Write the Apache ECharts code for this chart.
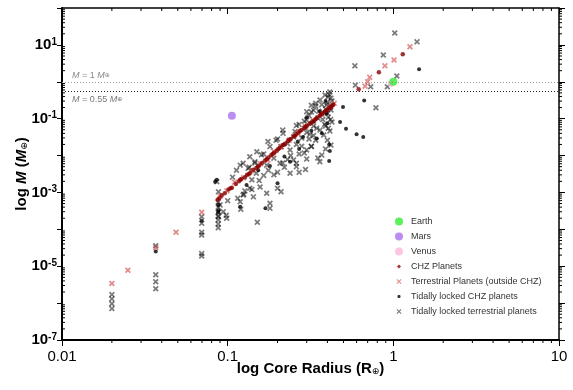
<!DOCTYPE html>
<html>
<head>
<meta charset="utf-8">
<script src="https://cdn.jsdelivr.net/npm/echarts@6/dist/echarts.min.js"></script>
<style>
  html, body { margin: 0; padding: 0; background: #fff; }
  #chart { width: 573px; height: 390px; }
</style>
</head>
<body>
<div id="chart"></div>
<script>
// values, [core radius (R_earth), mass (M_earth)]
const earth = [[1, 1]]
const mars = [[0.106, 0.12]]
const venus = [[0.97, 0.9]]

const chzPlanets = [
  [0.087, 6.3e-4], [0.092, 8.2e-4], [0.096, 9.5e-4], [0.101, 1.2e-3], [0.106, 1.35e-3],
  [0.112, 1.7e-3], [0.117, 2.0e-3], [0.121, 2.3e-3], [0.127, 2.6e-3], [0.131, 3.0e-3],
  [0.137, 3.4e-3], [0.143, 4.1e-3], [0.149, 4.6e-3], [0.155, 5.4e-3], [0.161, 6.3e-3],
  [0.168, 7.4e-3], [0.176, 8.9e-3], [0.183, 1.02e-2], [0.191, 1.2e-2], [0.198, 1.35e-2],
  [0.206, 1.6e-2], [0.214, 1.9e-2], [0.222, 2.1e-2], [0.231, 2.5e-2], [0.240, 2.8e-2],
  [0.250, 3.3e-2], [0.259, 3.7e-2], [0.268, 4.2e-2], [0.279, 4.9e-2], [0.290, 5.6e-2],
  [0.301, 6.4e-2], [0.312, 7.2e-2], [0.324, 8.4e-2], [0.336, 9.4e-2], [0.348, 0.108],
  [0.360, 0.122], [0.372, 0.138], [0.385, 0.155], [0.398, 0.175], [0.410, 0.19],
  [0.422, 0.215], [0.434, 0.24], [0.618, 0.63], [0.818, 1.8], [1.14, 5.6],
  [0.089, 7.0e-4], [0.104, 1.3e-3], [0.119, 2.2e-3], [0.134, 3.1e-3], [0.152, 5.0e-3],
  [0.172, 8.0e-3], [0.187, 1.1e-2], [0.202, 1.5e-2], [0.218, 1.95e-2], [0.235, 2.7e-2],
  [0.254, 3.4e-2], [0.273, 4.6e-2], [0.295, 6.0e-2], [0.318, 7.6e-2], [0.342, 0.1],
  [0.366, 0.13], [0.392, 0.165], [0.416, 0.2], [0.428, 0.23]
]

const terrestrial = [
  [0.02, 3.4e-6], [0.025, 7.8e-6], [0.0368, 3.2e-5], [0.0488, 8.3e-5], [0.0697, 2.9e-4],
  [0.090, 8.0e-4], [0.099, 1.1e-3], [0.110, 1.9e-3], [0.125, 2.5e-3], [0.14, 3.9e-3],
  [0.158, 6.0e-3], [0.175, 7.6e-3], [0.19, 1.3e-2], [0.21, 1.7e-2], [0.235, 2.6e-2],
  [0.265, 4.0e-2], [0.295, 6.2e-2], [0.33, 0.088], [0.37, 0.13], [0.41, 0.2], [0.44, 0.26],
  [0.675, 0.76], [0.70, 1.0], [0.72, 1.32], [0.89, 2.7], [1.01, 3.9], [1.26, 8.9]
]

const lockedChz = [
  [0.0368, 2.5e-5], [0.0697, 1.7e-4], [0.0877, 2.9e-4], [0.0877, 4.6e-4], [0.084, 1.95e-3],
  [0.086, 2.2e-3], [0.088, 3.3e-4], [0.119, 4.1e-4], [0.169, 3.7e-4], [0.153, 4.0e-3],
  [0.20, 1.77e-3], [0.238, 6.8e-3], [0.265, 0.024], [0.285, 0.032], [0.33, 0.082],
  [0.345, 0.029], [0.37, 0.040], [0.395, 0.14], [0.40, 0.075], [0.41, 0.020],
  [0.414, 0.0132], [0.41, 0.0071], [0.477, 0.081], [0.497, 0.206], [0.518, 0.053],
  [0.60, 0.038], [0.658, 0.032], [0.667, 0.313], [1.43, 2.2], [0.30, 0.11], [0.36, 0.16],
  [0.32, 0.047], [0.27, 0.015], [0.22, 0.0095], [0.18, 0.0052], [0.13, 0.0016], [0.39, 0.30]
]

const lockedTerrestrial = [
  [0.02, 1.7e-6], [0.02, 1.3e-6], [0.02, 9.6e-7], [0.02, 7.1e-7],
  [0.0368, 3.6e-5], [0.0368, 5.9e-6], [0.0368, 3.8e-6], [0.0368, 2.45e-6],
  [0.0697, 2.2e-4], [0.0697, 1.46e-4], [0.0697, 8.3e-5], [0.0697, 7.0e-5], [0.0697, 2.2e-5], [0.0697, 1.9e-5],
  [0.0877, 5.5e-4], [0.0877, 4.0e-4], [0.0877, 2.9e-4], [0.0877, 2.3e-4], [0.0877, 1.8e-4], [0.0877, 1.4e-4], [0.0877, 1.1e-4],
  [0.0986, 2.0e-4], [0.12, 3.5e-4], [0.151, 1.55e-4], [0.18, 5.1e-4],
  [0.086, 1.95e-3], [0.088, 1.04e-3], [0.090, 4.6e-4], [0.094, 3.0e-4], [0.098, 2.4e-4], [0.088, 2.2e-4],
  [0.119, 5.6e-4], [0.124, 8.5e-4], [0.143, 7.6e-4], [0.136, 1.3e-3], [0.157, 1.4e-3], [0.172, 9.5e-4],
  [0.21, 1.04e-3], [0.20, 1.3e-3], [0.18, 3.7e-4],
  [0.14, 2.2e-3], [0.149, 3.3e-3], [0.133, 4.5e-3], [0.124, 6.2e-3], [0.146, 6.8e-3], [0.136, 9.3e-3], [0.119, 5.5e-3],
  [0.176, 4.0e-3], [0.19, 3.0e-3], [0.207, 6.2e-3], [0.238, 3.3e-3], [0.26, 6.2e-3], [0.238, 0.0141],
  [0.25, 0.032], [0.216, 0.040], [0.18, 0.0175], [0.15, 0.0127], [0.146, 0.0063], [0.172, 0.0055],
  [0.175, 0.024], [0.196, 0.026], [0.21, 0.0175], [0.215, 0.049], [0.215, 0.0063],
  [0.25, 0.0076], [0.26, 0.005], [0.29, 0.0117], [0.30, 0.0081], [0.32, 0.0175], [0.36, 0.0068],
  [0.35, 0.0086], [0.30, 0.0141], [0.32, 0.018], [0.28, 0.030], [0.34, 0.026], [0.314, 0.038],
  [0.361, 0.049], [0.293, 0.056], [0.33, 0.063], [0.30, 0.092], [0.35, 0.104], [0.32, 0.151],
  [0.34, 0.22], [0.361, 0.32], [0.30, 0.155], [0.34, 0.26], [0.387, 0.44],
  [0.414, 0.53], [0.403, 0.385], [0.426, 0.30], [0.395, 0.234], [0.42, 0.171], [0.387, 0.142],
  [0.405, 0.110], [0.426, 0.081], [0.39, 0.063], [0.414, 0.046], [0.38, 0.036], [0.40, 0.026],
  [0.42, 0.0193], [0.39, 0.015], [0.37, 0.0103],
  [0.107, 2.6e-3], [0.113, 4.0e-3], [0.127, 1.1e-3], [0.165, 0.011], [0.19, 0.0085],
  [0.23, 0.021], [0.255, 0.045], [0.27, 0.07], [0.31, 0.12], [0.33, 0.17],
  [0.41, 0.45], [0.42, 0.36], [0.40, 0.27], [0.415, 0.2], [0.40, 0.14], [0.418, 0.095],
  [0.405, 0.055], [0.385, 0.07], [0.375, 0.095], [0.39, 0.18], [0.37, 0.24], [0.355, 0.16],
  [0.28, 0.018], [0.27, 0.011], [0.31, 0.028], [0.33, 0.035], [0.345, 0.055], [0.30, 0.042],
  [0.26, 0.02], [0.24, 0.01], [0.22, 0.0048], [0.20, 0.0035], [0.23, 0.0078], [0.165, 0.0029],
  [0.155, 0.0021], [0.14, 0.0012], [0.125, 9.0e-4], [0.115, 7.0e-4], [0.10, 6.0e-4],
  [0.27, 0.0035], [0.295, 0.0042], [0.20, 0.028], [0.16, 0.0105], [0.135, 0.0048],
  [0.29, 0.085], [0.26, 0.065], [0.32, 0.23],
  [0.586, 2.7], [0.87, 5.3], [0.59, 0.81], [0.73, 0.73], [0.92, 0.73], [1.05, 1.43],
  [0.785, 0.198], [1.02, 21], [1.39, 12.1]
]

// reference lines
const massLines = [1, 0.55]

// axis range (decades)
const xDecades = [-2, -1, 0]
const yDecades = [-7, -6, -5, -4, -3, -2, -1, 0, 1]
const minorSteps = [2, 3, 4, 5, 6, 7, 8, 9]

const X_MIN = 0.01, X_MAX = 10, Y_MIN = 1e-7, Y_MAX = 100

const xMinor = []
xDecades.forEach(d => minorSteps.forEach(s => xMinor.push([s * Math.pow(10, d), Y_MIN])))
const yMinor = []
yDecades.forEach(d => minorSteps.forEach(s => yMinor.push([X_MIN, s * Math.pow(10, d)])))

const FONT = 'Liberation Sans, Arial, sans-serif'
const xPath = 'path://M0,2L2,0L5,3L8,0L10,2L7,5L10,8L8,10L5,7L2,10L0,8L3,5Z'
// legend icons padded with an empty box so they stay small
const iconX = 'path://M0,0M16,16M3,4.5L4.5,3L8,6.5L11.5,3L13,4.5L9.5,8L13,11.5L11.5,13L8,9.5L4.5,13L3,11.5L6.5,8Z'
const iconDiamond = 'path://M0,0M16,16M8,4L12,8L8,12L4,8Z'
const iconDot = 'path://M0,0M16,16M6.5,5L9.5,5L11,6.5L11,9.5L9.5,11L6.5,11L5,9.5L5,6.5Z'

const tickLine = (x1, y1, x2, y2) => ({
  type: 'line', shape: { x1, y1, x2, y2 }, style: { stroke: '#000', lineWidth: 1 }
})

const option = {
  animation: false,
  backgroundColor: '#fff',
  grid: { left: 62, right: 14, top: 8, bottom: 50 },
  legend: {
    orient: 'vertical',
    left: 390,
    top: 212,
    itemWidth: 8,
    itemHeight: 8,
    itemGap: 6,
    textStyle: { fontSize: 9, color: '#333', fontFamily: FONT, padding: [0, 0, 0, 3] },
    data: [
      { name: 'Earth', icon: 'circle' },
      { name: 'Mars', icon: 'circle' },
      { name: 'Venus', icon: 'circle' },
      { name: 'CHZ Planets', icon: iconDiamond },
      { name: 'Terrestrial Planets (outside CHZ)', icon: iconX },
      { name: 'Tidally locked CHZ planets', icon: iconDot },
      { name: 'Tidally locked terrestrial planets', icon: iconX }
    ]
  },
  xAxis: [{
    type: 'log',
    logBase: 10,
    min: X_MIN,
    max: X_MAX,
    position: 'bottom',
    name: '{t|log Core Radius (R}{s|⊕}{t|)}',
    nameLocation: 'middle',
    nameGap: 21,
    nameMoveOverlap: false,
    nameTextStyle: {
      rich: {
        t: { fontSize: 15, fontWeight: 'bold', color: '#000', fontFamily: FONT },
        s: { fontSize: 9, color: '#000', fontFamily: 'DejaVu Sans', verticalAlign: 'bottom', padding: [6, 0, 0, 0] }
      }
    },
    axisLine: { lineStyle: { color: '#000', width: 2 } },
    axisTick: { length: 6, lineStyle: { color: '#000', width: 1 } },
    axisLabel: {
      color: '#000', fontSize: 15, fontFamily: FONT, margin: 9,
      formatter: v => {
        const e = Math.round(Math.log10(v))
        return e < 0 ? Math.pow(10, e).toFixed(-e) : String(Math.pow(10, e))
      }
    },
    splitLine: { show: false }
  }, {
    type: 'log',
    logBase: 10,
    min: X_MIN,
    max: X_MAX,
    position: 'top',
    axisLine: { lineStyle: { color: '#000', width: 1.5 } },
    axisTick: { inside: true, length: 6, lineStyle: { color: '#000', width: 1 } },
    axisLabel: { show: false },
    splitLine: { show: false }
  }],
  yAxis: [{
    type: 'log',
    logBase: 10,
    min: Y_MIN,
    max: Y_MAX,
    splitNumber: 9,
    position: 'left',
    name: '{t|log }{i|M}{t| (}{i|M}{s|⊕}{t|)}',
    nameLocation: 'middle',
    nameGap: 33,
    nameMoveOverlap: false,
    nameTextStyle: {
      rich: {
        t: { fontSize: 15, fontWeight: 'bold', color: '#000', fontFamily: FONT },
        i: { fontSize: 15, fontWeight: 'bold', fontStyle: 'italic', color: '#000', fontFamily: FONT },
        s: { fontSize: 9, color: '#000', fontFamily: 'DejaVu Sans', verticalAlign: 'bottom', padding: [6, 0, 0, 0] }
      }
    },
    axisLine: { lineStyle: { color: '#000', width: 2 } },
    axisTick: { length: 5, lineStyle: { color: '#000', width: 1 } },
    axisLabel: {
      margin: 5,
      formatter: v => {
        const e = Math.round(Math.log10(v))
        return Math.abs(e) % 2 === 1 ? '{b|10}{s|' + e + '}' : ''
      },
      rich: {
        b: { fontSize: 15, fontWeight: 'bold', color: '#000', fontFamily: FONT },
        s: { fontSize: 10, fontWeight: 'bold', color: '#000', fontFamily: FONT, verticalAlign: 'top', padding: [0, 0, 6, 0] }
      }
    },
    splitLine: { show: false }
  }, {
    type: 'log',
    logBase: 10,
    min: Y_MIN,
    max: Y_MAX,
    splitNumber: 9,
    position: 'right',
    axisLine: { lineStyle: { color: '#000', width: 1.5 } },
    axisTick: { length: 6, lineStyle: { color: '#000', width: 1 } },
    axisLabel: { show: false },
    splitLine: { show: false }
  }],
  series: [
    {
      name: 'Tidally locked terrestrial planets',
      type: 'scatter',
      data: lockedTerrestrial,
      symbol: xPath,
      symbolSize: 6,
      itemStyle: { color: 'rgba(0,0,0,0.65)' }
    },
    {
      name: 'Terrestrial Planets (outside CHZ)',
      type: 'scatter',
      data: terrestrial,
      symbol: xPath,
      symbolSize: 6,
      itemStyle: { color: 'rgba(205,60,60,0.75)' }
    },
    {
      name: 'Tidally locked CHZ planets',
      type: 'scatter',
      data: lockedChz,
      symbol: 'circle',
      symbolSize: 4,
      itemStyle: { color: '#000' }
    },
    {
      name: 'CHZ Planets',
      type: 'scatter',
      data: chzPlanets,
      symbol: 'circle',
      symbolSize: 4.5,
      itemStyle: { color: '#8b0000' }
    },
    {
      name: 'Venus',
      type: 'scatter',
      data: venus,
      symbolSize: 7,
      itemStyle: { color: '#ffb8da' }
    },
    {
      name: 'Mars',
      type: 'scatter',
      data: mars,
      symbolSize: 8,
      itemStyle: { color: '#aa70ee' }
    },
    {
      name: 'Earth',
      type: 'scatter',
      data: earth,
      symbolSize: 8,
      itemStyle: { color: '#33ee33' },
      markLine: {
        silent: true,
        symbol: ['none', 'none'],
        data: [{
          yAxis: massLines[0],
          lineStyle: { color: '#999', type: [1, 2], width: 1 },
          label: {
            position: 'insideStartTop', distance: [10, 2],
            formatter: '{i|M} = 1 {i|M}{s|⊕}',
            rich: {
              i: { fontSize: 9, fontStyle: 'italic', color: '#888', fontFamily: FONT },
              s: { fontSize: 6, color: '#888', fontFamily: 'DejaVu Sans' }
            },
            fontSize: 9, color: '#888', fontFamily: FONT
          }
        }, {
          yAxis: massLines[1],
          lineStyle: { color: '#222', type: [1, 2], width: 1 },
          label: {
            position: 'insideStartBottom', distance: [10, 4],
            formatter: '{i|M} = 0.55 {i|M}{s|⊕}',
            rich: {
              i: { fontSize: 9, fontStyle: 'italic', color: '#777', fontFamily: FONT },
              s: { fontSize: 6, color: '#777', fontFamily: 'DejaVu Sans' }
            },
            fontSize: 9, color: '#777', fontFamily: FONT
          }
        }]
      }
    },
    {
      // log minor ticks on bottom and top
      type: 'custom',
      silent: true,
      data: xMinor,
      renderItem: (params, api) => {
        const v = api.value(0)
        const b = api.coord([v, Y_MIN])
        const t = api.coord([v, Y_MAX])
        return { type: 'group', children: [tickLine(b[0], b[1], b[0], b[1] + 3), tickLine(t[0], t[1], t[0], t[1] + 3)] }
      }
    },
    {
      // log minor ticks on left and right
      type: 'custom',
      silent: true,
      data: yMinor,
      renderItem: (params, api) => {
        const v = api.value(1)
        const l = api.coord([X_MIN, v])
        const r = api.coord([X_MAX, v])
        return { type: 'group', children: [tickLine(l[0], l[1], l[0] + 3, l[1]), tickLine(r[0], r[1], r[0] + 3, r[1])] }
      }
    }
  ]
}

const myChart = echarts.init(document.getElementById('chart'))
myChart.setOption(option)
</script>
</body>
</html>
